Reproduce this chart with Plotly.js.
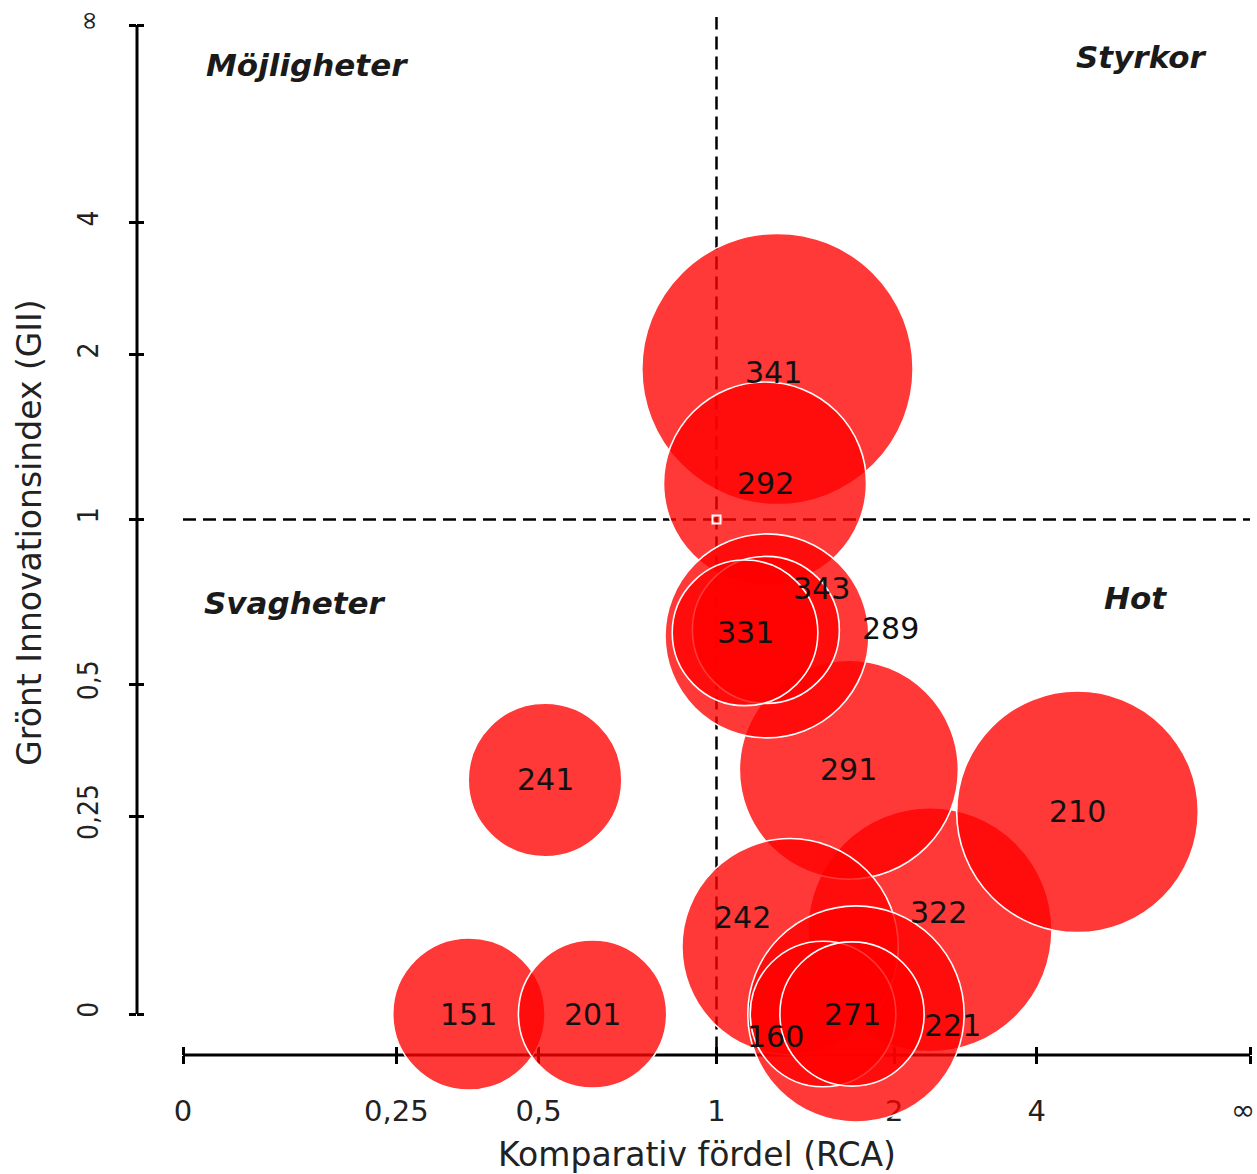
<!DOCTYPE html>
<html>
<head>
<meta charset="utf-8">
<script src="https://cdn.plot.ly/plotly-3.0.1.min.js"></script>
<style>html,body{margin:0;padding:0;background:#fff;}#chart{width:1257px;height:1174px;}</style>
</head>
<body>
<div id="chart"></div>
<script>
// ---- data ----
// bubbles, listed in drawing order
const bubbleLabels = ['341','292','322','291','242','210','289','343','331','221','160','271','241','151','201'];
const rca          = [1.258, 1.200, 2.334, 1.660, 1.320, 5.185, 1.209, 1.204, 1.113, 1.708, 1.499, 1.681, 0.5135, 0.366, 0.623];
const gii          = [1.875, 1.157, 0.093, 0.328, 0.073, 0.257, 0.619, 0.635, 0.627, 0, 0, 0, 0.310, 0, 0];
const bubbleValue  = [184, 103, 149, 120, 117, 146, 104, 54, 53, 117, 53, 52, 59, 58, 55];

// axis ticks (real values; Infinity = right / top end)
const tickValues = [0, 0.25, 0.5, 1, 2, 4, Infinity];
const tickLabels = ['0', '0,25', '0,5', '1', '2', '4', '\u221E'];

// quadrant names
const quadrantNames = ['Möjligheter', 'Styrkor', 'Svagheter', 'Hot'];

// ---- styling / placement (not data) ----
// label offsets in screen pixels [dx right, dy down]
const labelShift = { '341':[-4,3], '322':[9,-17], '242':[-48,-29], '289':[124,-7], '343':[56,-41], '221':[97,11], '160':[-48,22] };
const quadrantPos = [[0.1518,0.9474],[0.8964,0.9550],[0.1411,0.4325],[0.8911,0.4373]];

// scale transform: v -> v/(1+v)   (0..inf mapped to 0..1)
function tr(v){ return v === Infinity ? 1 : v/(1+v); }

const X = rca.map(tr), Y = gii.map(tr);
const tickT = tickValues.map(tr);
// the last x label sits at the page edge: it is drawn as an annotation nudged inward
const lastIdx = tickLabels.length - 1;
const xTickText = tickLabels.map((t,i)=> i === lastIdx ? '' : t);

const FONT = 'DejaVu Sans, Open Sans, sans-serif';

const traces = [
  { type:'scatter', mode:'markers', x:X, y:Y, text:bubbleLabels, hoverinfo:'text',
    cliponaxis:false,
    marker:{ size:bubbleValue, sizemode:'area', sizeref:0.005, opacity:1, color:'rgba(255,0,0,0.78)',
             line:{ color:'#ffffff', width:1.6 } } },
  { type:'scatter', mode:'markers', x:[tr(1)], y:[tr(1)], hoverinfo:'skip', cliponaxis:false,
    marker:{ symbol:'square-open', size:8, color:'#ffffff', line:{ color:'#ffffff', width:2 } } },
  { type:'scatter', mode:'markers', x:[tr(1)], y:[tr(1)], xaxis:'x2', yaxis:'y2', hoverinfo:'skip',
    marker:{ opacity:0 } }
];

const annotations = bubbleLabels.map((lab,i)=>{
  const s = labelShift[lab] || [0,0];
  return { x:X[i], y:Y[i], xref:'x', yref:'y', text:lab, showarrow:false,
           xanchor:'center', yanchor:'middle',
           xshift:s[0], yshift:-s[1], font:{ family:FONT, size:30, color:'#111' } };
});
quadrantNames.forEach((q,i)=>{
  annotations.push({ x:quadrantPos[i][0], y:quadrantPos[i][1], xref:'paper', yref:'paper', text:q,
    xanchor:'center', yanchor:'middle',
    showarrow:false, font:{ family:FONT, size:31, color:'#1a1a1a', weight:'bold', style:'italic' } });
});
annotations.push({ x:tickT[lastIdx], xref:'x', y:-0.0526, yref:'paper', text:tickLabels[lastIdx],
  xanchor:'center', yanchor:'middle', xshift:-7, showarrow:false,
  font:{ family:FONT, size:29, color:'#222' } });

const xr = [-0.04311, 1.00656], yr = [-0.041456, 1.015167];

const shapes = [
  // axis lines
  { type:'line', layer:'below', xref:'x', yref:'paper', x0:tr(0), x1:tr(Infinity), y0:0, y1:0, line:{ color:'#000', width:3 } },
  { type:'line', layer:'below', xref:'paper', yref:'y', x0:0, x1:0, y0:tr(0), y1:tr(Infinity), line:{ color:'#000', width:3 } },
  // quadrant dividers at RCA = 1 and GII = 1
  { type:'line', layer:'below', xref:'x', yref:'y', x0:tr(1), x1:tr(1), y0:-0.036, y1:1.008, line:{ color:'#000', width:2.5, dash:'13px,7px' } },
  { type:'line', layer:'below', xref:'x', yref:'y', x0:tr(0), x1:tr(Infinity), y0:tr(1), y1:tr(1), line:{ color:'#000', width:2.5, dash:'13px,7px' } }
];

const axBase = { showgrid:false, zeroline:false, showline:false, tickcolor:'#000', tickwidth:3, layer:'below traces', fixedrange:true };

const layout = {
  width:1257, height:1174,
  margin:{ l:137, r:0, t:10, b:119, pad:0 },
  paper_bgcolor:'#fff', plot_bgcolor:'#fff',
  showlegend:false,
  xaxis: Object.assign({}, axBase, {
    range:xr, tickmode:'array', tickvals:tickT, ticktext:xTickText,
    ticks:'outside', ticklen:8, ticklabelstandoff:22,
    tickfont:{ family:FONT, size:29, color:'#222' },
    title:{ text:'Komparativ fördel (RCA)', font:{ family:FONT, size:33, color:'#222' }, standoff:18 }
  }),
  yaxis: Object.assign({}, axBase, {
    range:yr, tickmode:'array', tickvals:tickT, ticktext:tickLabels,
    ticks:'outside', ticklen:7, tickangle:-90, ticklabelstandoff:20, ticklabeloverflow:'allow',
    tickfont:{ family:'DejaVu Sans Condensed, DejaVu Sans, sans-serif', size:28, color:'#222' },
    title:{ text:'Grönt Innovationsindex (GII)', font:{ family:FONT, size:33, color:'#222' }, standoff:20 }
  }),
  xaxis2: Object.assign({}, axBase, {
    range:xr, overlaying:'x', anchor:'y2', side:'bottom', tickmode:'array', tickvals:tickT,
    ticks:'inside', ticklen:8, showticklabels:false
  }),
  yaxis2: Object.assign({}, axBase, {
    range:yr, overlaying:'y', anchor:'x2', side:'left', tickmode:'array', tickvals:tickT,
    ticks:'inside', ticklen:7, showticklabels:false
  }),
  shapes: shapes,
  annotations: annotations
};

Plotly.newPlot('chart', traces, layout, { displayModeBar:false, staticPlot:true });
</script>
</body>
</html>
